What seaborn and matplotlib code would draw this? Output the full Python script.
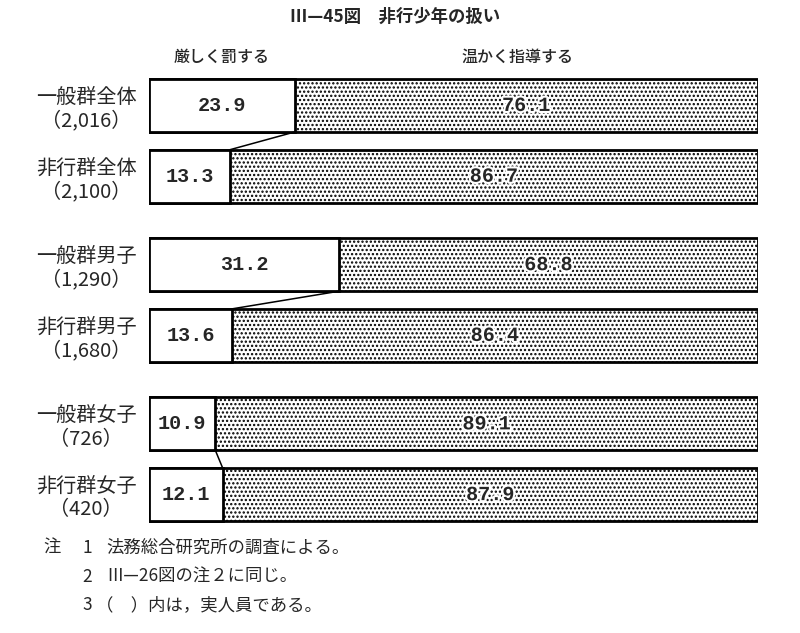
import matplotlib
matplotlib.use("Agg")
import matplotlib.pyplot as plt
import matplotlib.patheffects as pe
import seaborn as sns
import pandas as pd

# ---- data ----
groups = ["一般群全体", "非行群全体", "一般群男子", "非行群男子", "一般群女子", "非行群女子"]
counts = ["2,016", "2,100", "1,290", "1,680", "726", "420"]
severe = [23.9, 13.3, 31.2, 13.6, 10.9, 12.1]      # 厳しく罰する
warm = [76.1, 86.7, 68.8, 86.4, 89.1, 87.9]        # 温かく指導する
series_names = ["厳しく罰する", "温かく指導する"]
title = "Ⅲ—45図　非行少年の扱い"
notes = [("注", "1", "法務総合研究所の調査による。"),
         ("", "2", "Ⅲ—26図の注２に同じ。"),
         ("", "3", "（　）内は，実人員である。")]

# layout positions (not data)
ypos = [0, 1, 2.25, 3.25, 4.5, 5.5]
bar_h = 0.75

sns.set_style("white")
plt.rcParams["font.family"] = ["Noto Sans CJK JP", "DejaVu Sans"]
plt.rcParams["hatch.linewidth"] = 1.1

df = pd.DataFrame({"group": groups, "severe": severe, "warm": warm, "pos": ypos})
df["total"] = df["severe"] + df["warm"]

fig = plt.figure(figsize=(8, 6.33), dpi=100)
W, H = 800, 633
top_px, bot_px = 70.1, 530.0
ax = fig.add_axes([149 / W, 1 - bot_px / H, 609 / W, (bot_px - top_px) / H])

# full bar (dotted = 温かく指導する)
sns.barplot(data=df, x="total", y="pos", orient="h", native_scale=True,
            width=bar_h, color="white", edgecolor="black", linewidth=2.0,
            hatch="....", errorbar=None, ax=ax)
# left segment (blank = 厳しく罰する)
sns.barplot(data=df, x="severe", y="pos", orient="h", native_scale=True,
            width=bar_h, color="white", edgecolor="black", linewidth=2.0,
            errorbar=None, ax=ax)
for p in ax.patches:
    p.set_facecolor("white")

# connecting lines within pairs
for i in (0, 2, 4):
    ax.plot([df.severe[i], df.severe[i + 1]],
            [df.pos[i] + bar_h / 2, df.pos[i + 1] - bar_h / 2],
            color="black", lw=1.1, solid_capstyle="butt")

# value labels
halo = [pe.withStroke(linewidth=3, foreground="white")]
for i in range(len(df)):
    s, w, y = df.severe[i], df.warm[i], df.pos[i]
    ax.text(s / 2, y, f"{s:.1f}", ha="center", va="center",
            fontsize=14.5, fontfamily="Liberation Mono", fontweight="bold")
    ax.text(s + w / 2, y, f"{w:.1f}", ha="center", va="center",
            fontsize=14.5, fontfamily="Liberation Mono", fontweight="bold",
            path_effects=halo)

ax.set_xlim(0, 100)
ax.set_ylim(6.0, -0.5)
ax.set_yticks(ypos)
ax.set_yticklabels([f"{g}\n（{c}）" for g, c in zip(groups, counts)],
                   fontsize=14.5, multialignment="center", linespacing=1.15)
ax.tick_params(axis="y", length=0, pad=9)
ax.set_xticks([])
ax.set_xlabel("")
ax.set_ylabel("")
for sp in ax.spines.values():
    sp.set_visible(False)

# title and column headers
fig.text(395 / W, 1 - 17 / H, title, ha="center", va="center",
         fontsize=12.5, fontweight="bold")
fig.text(222 / W, 1 - 57 / H, series_names[0], ha="center", va="center",
         fontsize=11.5, fontweight="medium")
fig.text(518 / W, 1 - 57 / H, series_names[1], ha="center", va="center",
         fontsize=11.5, fontweight="medium")

# notes
note_y = [548, 577, 605]
text_x = [106, 106, 96]
for (lab, num, txt), yy, tx in zip(notes, note_y, text_x):
    if lab:
        fig.text(43 / W, 1 - yy / H, lab, ha="left", va="center", fontsize=12.5)
    fig.text(82 / W, 1 - yy / H, num, ha="left", va="center", fontsize=12.5)
    fig.text(tx / W, 1 - yy / H, txt, ha="left", va="center", fontsize=12.5)

fig.savefig("out.png", dpi=100)
